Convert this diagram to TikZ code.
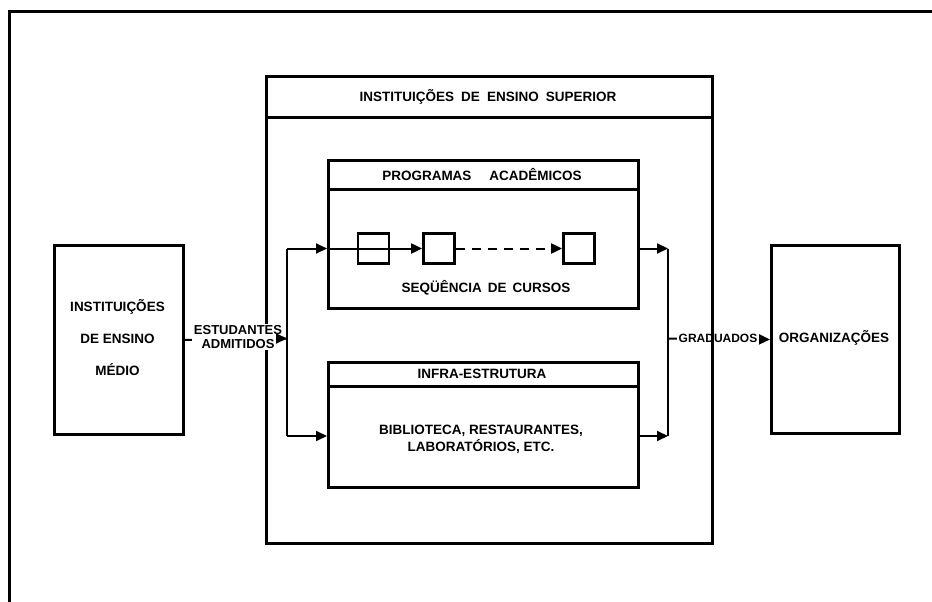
\documentclass[tikz,border=0pt]{standalone}
\usepackage{fontspec}
\setmainfont{Liberation Sans}
\usetikzlibrary{arrows.meta}
\begin{document}
\begin{tikzpicture}[x=1pt,y=-1pt,
  blk/.style={draw, line width=3pt, inner sep=0pt, anchor=north west},
  sq/.style={draw, line width=2.8pt, inner sep=0pt, minimum width=31pt, minimum height=30pt},
  hdr/.style={line width=3pt},
  conn/.style={line width=2pt},
  tip/.style={-{Triangle[length=11pt,width=10pt]}},
  lbl/.style={font=\fontsize{13.5}{17}\selectfont\bfseries, align=center, inner sep=0pt},
  sml/.style={font=\fontsize{12}{14}\selectfont\bfseries, align=center, fill=white, inner sep=1.5pt}
]
\useasboundingbox (0,0) rectangle (932,602);
% outer frame (top and left only)
\draw[line width=3pt, line join=miter] (9,602) -- (9,11.5) -- (932,11.5);

% side boxes
\node[blk, minimum width=129pt, minimum height=189pt] (lb) at (53,244) {};
\node[blk, minimum width=128pt, minimum height=188pt] (org) at (770,244) {};
\node[lbl, font=\fontsize{13.5}{32}\selectfont\bfseries] (lbt) at (117.5,338) {INSTITUIÇÕES\\DE ENSINO\\MÉDIO};
\node[lbl] (orgt) at (834,337.5) {ORGANIZAÇÕES};

% right junction and graduates connector (drawn before the big box)
\coordinate (b1) at (668,248.5);
\coordinate (b2) at (668,436);
\coordinate (jout) at (668,338.5);
\draw[conn, tip] (jout) -- (org.west);
\node[sml] (grad) at (718,338.5) {GRADUADOS};

% big box
\node[blk, minimum width=446pt, minimum height=467pt] (ies) at (265,75) {};
\draw[hdr] ([yshift=-42pt]ies.north west) -- ([yshift=-42pt]ies.north east);
\node[lbl] (iest) at (488,96.5) {INSTITUIÇÕES\hspace{7pt}DE\hspace{7pt}ENSINO\hspace{7pt}SUPERIOR};

% programas academicos
\node[blk, minimum width=310pt, minimum height=148pt] (prog) at (327,159) {};
\draw[hdr] ([yshift=-30pt]prog.north west) -- ([yshift=-30pt]prog.north east);
\node[lbl] (progt) at (482,174.5) {PROGRAMAS\hspace{18pt}ACADÊMICOS};
\node[lbl] (seqt) at (486,287.5) {SEQÜÊNCIA\hspace{6pt}DE\hspace{6pt}CURSOS};
\node[sq] (s1) at (373.5,248.5) {};
\node[sq] (s2) at (439,248.5) {};
\node[sq] (s3) at (579,248.5) {};

% infra-estrutura
\node[blk, minimum width=310pt, minimum height=125pt] (infra) at (327,361) {};
\draw[hdr] ([yshift=-25pt]infra.north west) -- ([yshift=-25pt]infra.north east);
\node[lbl] (inft) at (482,373.5) {INFRA-ESTRUTURA};
\node[lbl, font=\fontsize{13.5}{17}\selectfont\bfseries] (inftx) at (481,439) {BIBLIOTECA, RESTAURANTES,\\LABORATÓRIOS, ETC.};

% left junction
\coordinate (a1) at (287,248.5);
\coordinate (a2) at (287,436);
\coordinate (jin) at (287,338.5);
\draw[conn] (a1) -- (a2);
\draw[conn, tip] (a1) -- (a1 -| prog.west);
\draw[conn, tip] (a2) -- (a2 -| infra.west);
\draw[conn, tip] (a1 -| prog.west) -- (s2.west);
\draw[conn, tip, dash pattern=on 9pt off 7pt] (s2.east) -- (s3.west);

% right junction lines
\draw[conn] (b1) -- (b2);
\draw[conn, tip] (b1 -| prog.east) -- (b1);
\draw[conn, tip] (b2 -| infra.east) -- (b2);

% admitted students connector
\draw[conn] (lb.east) -- (jin);
\node[sml, font=\fontsize{13}{14.5}\selectfont\bfseries] (adm) at (238,337) {ESTUDANTES\\ADMITIDOS};
\draw[conn, tip] ([xshift=-11pt]jin) -- (jin);
\end{tikzpicture}
\end{document}
